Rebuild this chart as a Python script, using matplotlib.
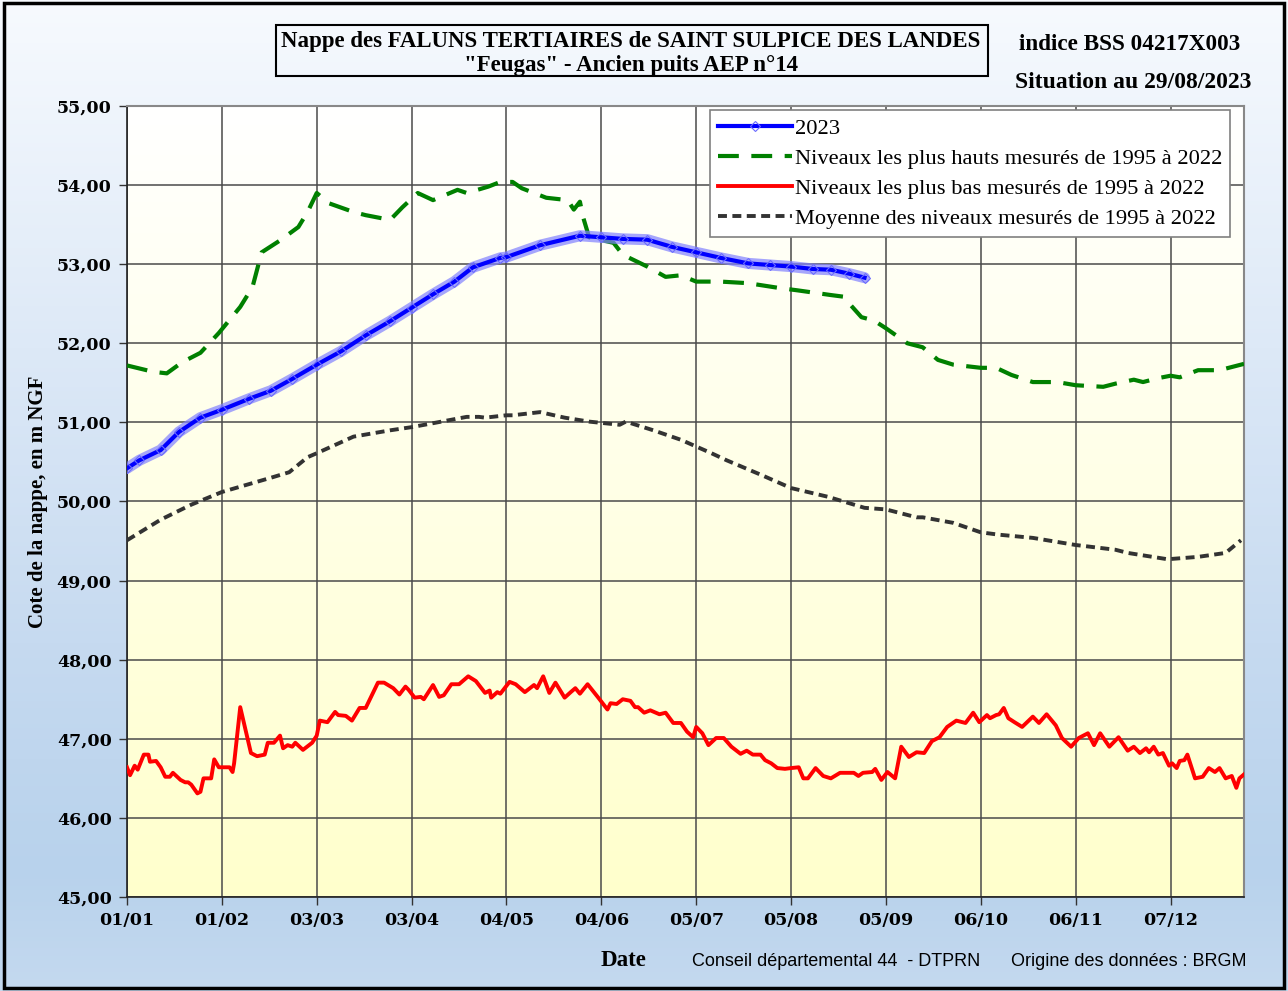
import matplotlib
matplotlib.use("Agg")
import matplotlib.pyplot as plt
import numpy as np
from matplotlib.colors import LinearSegmentedColormap
from matplotlib.patches import Rectangle

# day of year (0 = 01/01) and level in m NGF
days_2023 = [0, 4, 11, 17, 24, 31, 40, 47, 54, 62, 70, 78, 86, 93, 100, 107,
             113, 122, 124, 135, 148, 155, 162, 170, 178, 186, 194, 203, 210,
             217, 224, 230, 236, 241]
vals_2023 = [50.42, 50.52, 50.65, 50.88, 51.06, 51.16, 51.30, 51.40, 51.55,
             51.73, 51.90, 52.10, 52.28, 52.45, 52.62, 52.78, 52.96, 53.08,
             53.09, 53.24, 53.36, 53.34, 53.32, 53.31, 53.22, 53.15, 53.08,
             53.01, 52.99, 52.97, 52.94, 52.93, 52.88, 52.83]

days_max = [0, 8.5, 13, 18, 24, 30, 37, 41, 44, 50, 56, 59, 62, 66, 74, 78, 86,
            90, 95, 100, 108, 111, 118, 122, 126, 129, 137, 144, 146, 148, 149,
            151, 159, 162, 170, 176, 181, 186, 194, 203, 213, 219, 230, 234,
            240, 244, 248, 255, 260, 265, 270, 279, 284, 289, 296, 304, 310,
            319, 323, 329, 332, 337, 341, 344, 350, 357, 365]
vals_max = [51.72, 51.64, 51.62, 51.76, 51.88, 52.13, 52.46, 52.71, 53.15,
            53.30, 53.47, 53.66, 53.90, 53.77, 53.66, 53.62, 53.56, 53.72,
            53.90, 53.81, 53.94, 53.90, 53.98, 54.04, 54.04, 53.96, 53.84,
            53.81, 53.69, 53.79, 53.60, 53.34, 53.27, 53.12, 52.97, 52.84,
            52.86, 52.78, 52.78, 52.76, 52.70, 52.67, 52.61, 52.59, 52.33,
            52.29, 52.19, 52.00, 51.95, 51.79, 51.73, 51.69, 51.69, 51.60,
            51.51, 51.51, 51.47, 51.45, 51.49, 51.54, 51.51, 51.56, 51.59,
            51.57, 51.66, 51.66, 51.74]

days_min = [0, 1, 2.5, 3.5, 5.5, 7, 7.5, 9.5, 11, 12.5, 14, 15, 17.5, 19, 20,
            21, 23, 24, 25, 27.5, 28.5, 30, 33.5, 34.5, 35, 37, 38.5, 40.5, 42.5,
            45, 46, 48, 50, 51, 52.5, 54, 55, 57.5, 60.5, 62, 63, 65.5, 68,
            69, 71.5, 73.5, 76, 78, 80.5, 82, 84, 87, 89, 91, 92, 94, 96, 97,
            100, 102, 103.5, 106, 108.5, 111.5, 114, 117, 118.5, 119, 121,
            122, 125, 127, 130, 133, 134, 136, 138, 140, 143, 145, 146.5, 148,
            150.5, 154, 157, 158, 160, 162, 164.5, 166, 167, 169, 171, 174,
            176, 178.5, 181, 183, 185, 186, 188, 190, 192.5, 195, 197.5,
            200.5, 202.5, 204.5, 207, 208.5, 210.5, 212.5, 215, 217, 219.5,
            221, 222.5, 225, 227.5, 230, 233, 237.5, 239, 240.5, 243.5, 244.5,
            246.5, 248.5, 251, 253, 255.5, 258, 260.5, 263, 265.5, 268, 271,
            274, 276.5, 278.5, 281, 282, 284, 285, 286.5, 288, 290, 292.5,
            296, 298, 300.5, 303.5, 305.5, 308.5, 311, 314, 316, 318, 321,
            324, 327, 329, 331, 333, 334, 335.5, 337, 338.5, 340.5, 341.5,
            343, 344, 345.5, 346.5, 349, 351.5, 353.5, 355.5, 357, 359, 361,
            362.5, 363.5, 365]
vals_min = [46.64, 46.54, 46.66, 46.61, 46.80, 46.80, 46.71, 46.72, 46.64,
            46.52, 46.52, 46.57, 46.48, 46.45, 46.45, 46.42, 46.31, 46.33,
            46.50, 46.50, 46.74, 46.64, 46.64, 46.58, 46.69, 47.40, 47.15,
            46.82, 46.78, 46.80, 46.95, 46.95, 47.04, 46.88, 46.92, 46.90,
            46.95, 46.86, 46.95, 47.04, 47.23, 47.21, 47.34, 47.30, 47.29,
            47.23, 47.39, 47.39, 47.59, 47.71, 47.71, 47.64, 47.56, 47.66,
            47.62, 47.52, 47.53, 47.50, 47.68, 47.53, 47.55, 47.69, 47.69,
            47.79, 47.73, 47.58, 47.61, 47.52, 47.59, 47.57, 47.72, 47.69,
            47.59, 47.68, 47.64, 47.79, 47.58, 47.71, 47.52, 47.59, 47.64,
            47.57, 47.69, 47.52, 47.37, 47.45, 47.44, 47.50, 47.48, 47.40,
            47.40, 47.33, 47.36, 47.31, 47.33, 47.20, 47.20, 47.09, 47.02,
            47.15, 47.07, 46.92, 47.01, 47.01, 46.90, 46.81, 46.85, 46.80,
            46.80, 46.73, 46.69, 46.63, 46.62, 46.63, 46.64, 46.50, 46.50,
            46.63, 46.53, 46.50, 46.57, 46.57, 46.53, 46.57, 46.58, 46.62,
            46.48, 46.58, 46.50, 46.90, 46.77, 46.83, 46.82, 46.97, 47.02,
            47.15, 47.23, 47.20, 47.33, 47.21, 47.30, 47.26, 47.30, 47.31,
            47.39, 47.26, 47.21, 47.15, 47.28, 47.20, 47.31, 47.17, 47.01,
            46.90, 47.01, 47.07, 46.92, 47.07, 46.90, 47.02, 46.85, 46.90,
            46.82, 46.88, 46.83, 46.90, 46.80, 46.82, 46.66, 46.69, 46.63,
            46.72, 46.73, 46.80, 46.50, 46.52, 46.63, 46.58, 46.63, 46.50,
            46.53, 46.38, 46.50, 46.55]

days_mean = [0, 11, 21, 31, 47, 53, 59, 62, 74, 86, 93, 100, 111, 115, 117,
             124, 126, 135, 143, 151, 161, 163, 172, 181, 191, 196, 207, 217,
             229, 241, 248, 258, 260, 270, 279, 285, 296, 310, 323, 327, 340,
             350, 359, 364]
vals_mean = [49.51, 49.77, 49.96, 50.12, 50.30, 50.37, 50.56, 50.61, 50.82,
             50.90, 50.94, 50.99, 51.07, 51.07, 51.06, 51.09, 51.09, 51.13,
             51.06, 51.01, 50.97, 51.01, 50.90, 50.78, 50.61, 50.52, 50.34,
             50.17, 50.06, 49.92, 49.90, 49.80, 49.80, 49.73, 49.61, 49.58,
             49.54, 49.45, 49.39, 49.35, 49.27, 49.30, 49.35, 49.51]

tick_labels = ["01/01", "01/02", "03/03", "03/04", "04/05", "04/06",
               "05/07", "05/08", "05/09", "06/10", "06/11", "07/12"]

W, H = 1288, 991
fig = plt.figure(figsize=(W / 100, H / 100), dpi=100)

# outer background, white at top to light blue at bottom
bg = fig.add_axes([0, 0, 1, 1], zorder=-10)
bg_cmap = LinearSegmentedColormap.from_list(
    "bg", [(0, "#f7fafe"), (0.35, "#dde9f7"), (0.65, "#c6daf0"),
           (0.88, "#b8d2ec"), (1, "#c4d9ef")])
bg.imshow(np.linspace(0, 1, 256)[:, None], aspect="auto", cmap=bg_cmap,
          extent=[0, 1, 0, 1], origin="upper")
bg.set_xlim(0, 1)
bg.set_ylim(0, 1)
bg.axis("off")
bg.add_patch(Rectangle((0.003, 0.003), 0.994, 0.994, fill=False,
                       edgecolor="black", lw=2.5, transform=bg.transAxes))

ax = fig.add_axes([127 / W, 1 - 897 / H, (1244 - 127) / W, (897 - 106) / H])
plot_cmap = LinearSegmentedColormap.from_list("pa", ["#ffffff", "#ffffcc"])
ax.imshow(np.linspace(0, 1, 256)[:, None], aspect="auto", cmap=plot_cmap,
          extent=[0, 365, 45, 55], origin="upper", zorder=0)

ax.plot(days_max, vals_max, color="#008000", lw=3, dashes=(5, 3), zorder=3,
        label="Niveaux les plus hauts mesurés de 1995 à 2022")
ax.plot(days_min, vals_min, color="#ff0000", lw=2.8, zorder=3,
        label="Niveaux les plus bas mesurés de 1995 à 2022")
ax.plot(days_mean, vals_mean, color="#333333", lw=2.8, dashes=(2.3, 1.4),
        zorder=3, label="Moyenne des niveaux mesurés de 1995 à 2022")
ax.plot(days_2023, vals_2023, color="#8080ff", lw=8, alpha=0.7, zorder=4,
        solid_capstyle="round")
ax.plot(days_2023, vals_2023, color="#0000ff", lw=3, zorder=5,
        marker="D", ms=5, mfc="none", mec="#6a6aff", mew=0.8, label="2023")

ax.set_xlim(0, 365)
ax.set_ylim(45, 55)
ax.set_xticks(np.arange(0, 342, 31))
ax.set_xticklabels(tick_labels)
ax.set_yticks(np.arange(45, 56, 1))
ax.set_yticklabels([f"{v},00" for v in range(45, 56)])
ax.grid(True, color="#4a4a4a", lw=1.1)
ax.tick_params(direction="out", length=6, width=1, color="#333333", pad=5)
for lab in ax.get_xticklabels() + ax.get_yticklabels():
    lab.set_fontfamily("DejaVu Serif")
    lab.set_fontweight("bold")
    lab.set_fontsize(12.5)
for s in ["left", "bottom"]:
    ax.spines[s].set_color("#222222")
    ax.spines[s].set_linewidth(1.2)
for s in ["right", "top"]:
    ax.spines[s].set_color("#888888")
    ax.spines[s].set_linewidth(1.5)

ax.set_ylabel("Cote de la nappe, en m NGF", fontfamily="Liberation Serif",
              fontweight="bold", fontsize=15, labelpad=6)

h, l = ax.get_legend_handles_labels()
order = [3, 0, 1, 2]
leg = ax.legend([h[i] for i in order], [l[i] for i in order],
                loc="upper right", bbox_to_anchor=(1230 / W, 1 - 110 / H),
                bbox_transform=fig.transFigure, borderaxespad=0,
                fancybox=False, edgecolor="#808080", framealpha=1,
                handlelength=3.3, handletextpad=0.12, labelspacing=0.42,
                borderpad=0.35, numpoints=1,
                prop={"family": "Liberation Serif", "size": 16.2})
leg.get_frame().set_linewidth(1.2)
leg.set_zorder(10)

# title box and header texts
fig.patches.append(Rectangle((276 / W, 1 - 76 / H), (988 - 276) / W, 51 / H,
                             fill=False, edgecolor="black", lw=1.5,
                             transform=fig.transFigure))
serif_b = dict(fontfamily="Liberation Serif", fontweight="bold")
fig.text(631 / W, 1 - 42 / H,
         "Nappe des FALUNS TERTIAIRES de SAINT SULPICE DES LANDES",
         ha="center", va="center", fontsize=16.5, **serif_b)
fig.text(631 / W, 1 - 65 / H, '"Feugas" - Ancien puits AEP n°14',
         ha="center", va="center", fontsize=16.5, **serif_b)
fig.text(1130 / W, 1 - 44 / H, "indice BSS 04217X003", ha="center",
         va="center", fontsize=16.7, **serif_b)
fig.text(1133 / W, 1 - 82 / H, "Situation au 29/08/2023", ha="center",
         va="center", fontsize=17, **serif_b)

fig.text(623 / W, 1 - 961 / H, "Date", ha="center", va="center",
         fontsize=16.5, **serif_b)
fig.text(836 / W, 1 - 962 / H, "Conseil départemental 44  - DTPRN",
         ha="center", va="center", fontsize=13, fontfamily="Liberation Sans")
fig.text(1129 / W, 1 - 962 / H, "Origine des données : BRGM",
         ha="center", va="center", fontsize=13, fontfamily="Liberation Sans")

fig.savefig("out.png", dpi=100)
